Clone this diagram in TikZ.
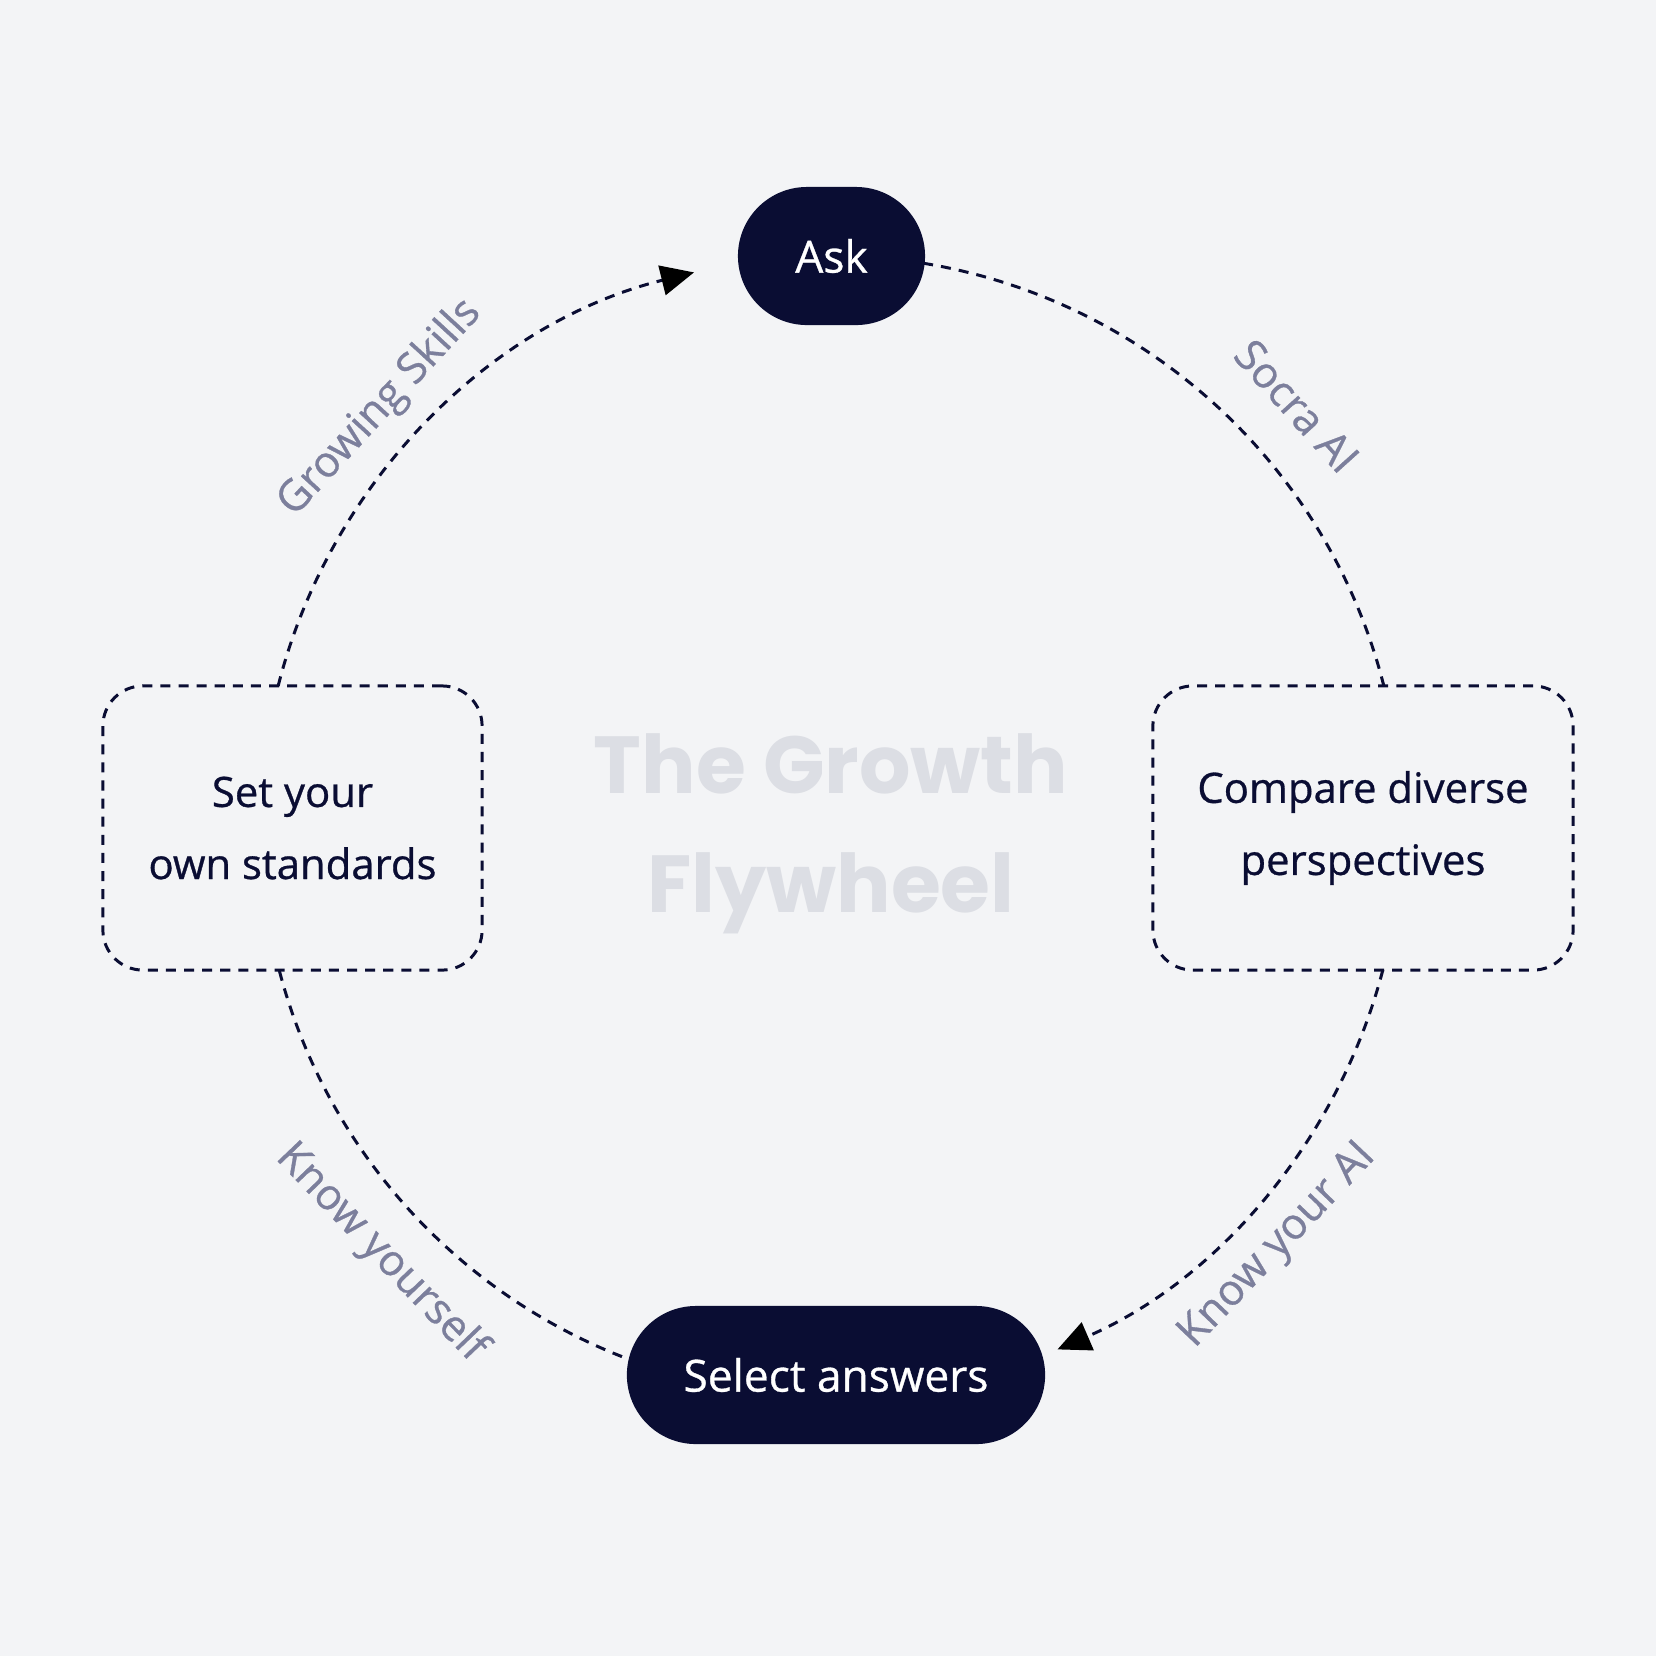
\documentclass[tikz,border=0pt]{standalone}
\usepackage{fontspec}
\setmainfont{Open Sans}[FakeBold=0.7]
\newfontfamily\titlefont{Poppins}
\usetikzlibrary{arrows.meta}
\definecolor{bg}{HTML}{F3F4F6}
\definecolor{navy}{HTML}{0A0D33}
\definecolor{lbl}{HTML}{7C7F9C}
\definecolor{ttl}{HTML}{DCDEE4}
\begin{document}
\begin{tikzpicture}[x=0.01cm,y=0.01cm,
  pill/.style={fill=navy,text=white,rounded corners=0.69cm,minimum height=1.38cm,inner sep=0pt,font=\fontsize{12.6}{15}\selectfont},
  stdbox/.style={draw=navy,line width=0.85pt,dash pattern=on 2.85pt off 2.3pt,rounded corners=0.4cm,minimum height=2.84cm,inner sep=0pt,align=center,text=navy,font=\fontsize{11.9}{20.5}\selectfont},
  flow/.style={draw=navy,line width=0.85pt,dash pattern=on 2.85pt off 2.3pt},
  tip/.style={-{Triangle[length=0.33cm,width=0.3cm,black]}},
  lab/.style={text=lbl,font=\fontsize{12.2}{14}\selectfont,inner sep=0pt},
  ttlstyle/.style={text=ttl,font=\titlefont\bfseries\fontsize{23}{30}\selectfont,anchor=base,inner sep=0pt}]
\fill[bg] (0,0) rectangle (1656,-1656);
\useasboundingbox (0,0) rectangle (1656,-1656);
\coordinate (C) at (831,-826);
% title
\node[ttlstyle] (t1) at (831,-793) {The Growth};
\node[ttlstyle] (t2) at (831,-912) {Flywheel};
% nodes
\node[pill,minimum width=1.87cm] (ask) at (831.5,-256) {Ask};
\node[pill,minimum width=4.18cm] (sel) at (836,-1375) {Select answers};
\node[stdbox,minimum width=3.79cm] (std) at (292.5,-828) {Set your\\own standards};
\node[stdbox,minimum width=4.20cm] (cmp) at (1363,-828) {Compare diverse\\perspectives};
% arc end points
\coordinate (a1) at ([shift={(80.7:5.7cm)}]C);
\coordinate (a2) at ([shift={(-14.6:5.7cm)}]C);
\coordinate (a3) at ([shift={(-111.5:5.7cm)}]C);
\coordinate (a4) at ([shift={(165.8:5.7cm)}]C);
% connectors
\draw[flow] (a1) arc[start angle=80.7,end angle=14.2,radius=5.7cm];
\draw[flow,tip] (a2) arc[start angle=-14.6,end angle=-66.6,radius=5.7cm];
\draw[flow] (a3) arc[start angle=-111.5,end angle=-165.4,radius=5.7cm];
\draw[flow,tip] (a4) arc[start angle=165.8,end angle=103.9,radius=5.7cm];
% labels
\node[lab,rotate=47.4] (l1) at (380,-408) {Growing Skills};
\node[lab,rotate=-48] (l2) at (1297,-406) {Socra AI};
\node[lab,rotate=46.5] (l3) at (1278,-1246) {Know your AI};
\node[lab,rotate=-46.3] (l4) at (381,-1253) {Know yourself};
\end{tikzpicture}
\end{document}
